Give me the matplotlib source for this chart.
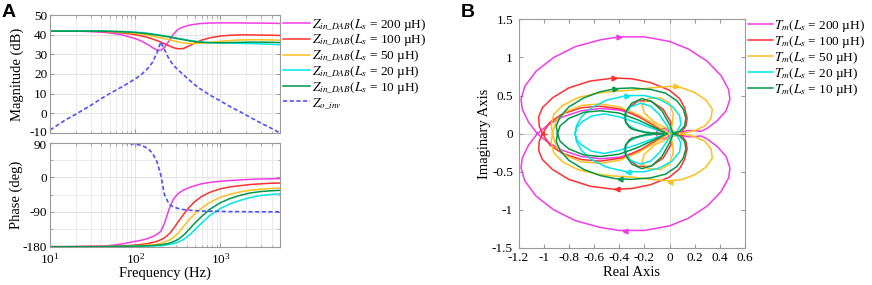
import numpy as np
import matplotlib
matplotlib.use('Agg')
import matplotlib.pyplot as plt
import matplotlib.transforms as mtransforms
from matplotlib.ticker import LogLocator, LogFormatterMathtext, NullFormatter, FixedLocator

plt.rcParams['font.family'] = ['Liberation Serif', 'DejaVu Serif']
plt.rcParams['mathtext.fontset'] = 'stix'

# ---------------- Bode data ----------------
freq = [10, 15, 20, 30, 40, 50, 70, 100, 120, 140, 160, 180, 200, 220, 250, 280,
        320, 370, 430, 500, 600, 750, 1000, 1300, 1700, 2200, 3000, 4000, 5000]

mag_200 = [41.8, 41.8, 41.8, 41.6, 41.3, 40.9, 39.9, 38.0, 36.6, 35.0, 33.4, 32.1, 32.0, 33.5, 36.8, 40.3,
           42.8, 44.0, 44.8, 45.3, 45.7, 45.9, 46.0, 46.0, 46.0, 45.9, 45.9, 45.8, 45.7]
mag_100 = [41.8, 41.8, 41.8, 41.7, 41.6, 41.4, 40.9, 40.0, 39.3, 38.6, 37.8, 37.0, 36.2, 35.4, 34.3, 33.4,
           32.8, 33.0, 34.3, 35.8, 37.2, 38.4, 39.3, 39.7, 39.9, 39.9, 39.8, 39.7, 39.6]
mag_50 = [41.8, 41.8, 41.8, 41.8, 41.7, 41.6, 41.3, 40.7, 40.3, 39.8, 39.3, 38.8, 38.4, 38.0, 37.4, 36.9,
          36.3, 35.8, 35.5, 35.5, 35.7, 36.1, 36.6, 37.0, 37.3, 37.4, 37.4, 37.3, 37.2]
mag_20 = [41.8, 41.8, 41.8, 41.8, 41.8, 41.7, 41.6, 41.3, 41.0, 40.7, 40.4, 40.0, 39.7, 39.4, 39.0, 38.6,
          38.1, 37.6, 37.1, 36.7, 36.3, 36.0, 35.8, 35.7, 35.6, 35.5, 35.3, 35.1, 34.9]
mag_10 = [41.8, 41.8, 41.8, 41.8, 41.8, 41.7, 41.5, 41.1, 40.8, 40.5, 40.1, 39.8, 39.5, 39.2, 38.8, 38.4,
          37.9, 37.4, 36.9, 36.5, 36.1, 35.9, 35.9, 36.0, 36.1, 36.2, 36.2, 36.1, 36.0]
mag_zo = [-8.5, -3.5, -0.5, 4.0, 7.5, 10.0, 13.5, 17.5, 20.0, 22.8, 26.0, 30.8, 36.3, 32.5, 27.5, 24.5,
          22.0, 19.5, 17.0, 14.5, 12.0, 9.3, 6.3, 3.4, 0.8, -1.9, -5.0, -7.7, -10.0]

ph_200 = [-180, -180, -179.5, -179, -178.5, -177, -173, -166, -163, -159, -154, -148, -140, -120, -82, -57,
          -42, -33, -27, -22, -17, -13.5, -10.5, -8.5, -7, -5.5, -4.5, -4, -3.5]
ph_100 = [-180, -180, -180, -179.5, -179, -179, -178, -176, -174, -172, -169, -166, -162, -157, -147, -134,
          -115, -96, -78, -63, -50, -39, -30, -25, -22, -19, -17, -15.5, -15]
ph_50 = [-180, -180, -180, -180, -179.5, -179.5, -179, -178, -177, -176, -175, -173, -171, -168, -163, -156,
         -145, -127, -110, -95, -80, -65, -52, -44, -38, -34, -31, -29, -28]
ph_20 = [-180, -180, -180, -180, -180, -179.5, -179.5, -179, -178.8, -178.5, -178, -177.5, -177, -176, -174.5, -172,
         -168, -161, -150, -136, -119, -99, -81, -69, -60, -53, -47, -44.5, -43]
ph_10 = [-180, -180, -180, -180, -180, -179.5, -179, -178.5, -178, -177.5, -177, -176, -175, -173.5, -171, -167,
         -161, -150, -135, -119, -102, -83, -66, -55, -47, -41, -37, -35, -34]
ph_zo = [90, 90, 90, 89.8, 89.6, 89.3, 88.5, 86, 82, 75, 62, 40, 5, -45, -70, -77,
         -81, -84, -85.5, -86.5, -87.5, -88, -88.5, -89, -89, -89.5, -89.5, -89.5, -89.5]

# ---------------- Nyquist data (upper half, mirrored for lower half) ----------------
nan = float('nan')
nyq_200 = [(-1.05, 0.0), (-1.12, 0.15), (-1.17, 0.32), (-1.18, 0.45), (-1.15, 0.62), (-1.06, 0.82),
           (-0.92, 1.0), (-0.75, 1.14), (-0.55, 1.23), (-0.40, 1.27), (-0.2, 1.27), (0.0, 1.21),
           (0.15, 1.11), (0.30, 0.95), (0.41, 0.76), (0.47, 0.58), (0.48, 0.45), (0.45, 0.30),
           (0.38, 0.17), (0.30, 0.07), (0.25, 0.03), (0.2, 0.04), (0.14, 0.04), (0.1, 0.02),
           (0.06, 0.01), (0.02, 0.0), (nan, nan),
           (0.0, 0.0), (-0.01, 0.045), (-0.03, 0.062), (-0.055, 0.067), (-0.08, 0.06), (-0.095, 0.045),
           (-0.105, 0.0), (nan, nan),
           (-0.02, 0.0), (-0.08, 0.07), (-0.15, 0.15), (-0.25, 0.24), (-0.4, 0.31), (-0.55, 0.33),
           (-0.7, 0.3), (-0.85, 0.22), (-0.97, 0.11), (-1.05, 0.0)]
nyq_100 = [(-1.01, 0.0), (-1.035, 0.1), (-1.04, 0.22), (-1.01, 0.34), (-0.93, 0.47), (-0.8, 0.6),
           (-0.63, 0.69), (-0.44, 0.73), (-0.3, 0.72), (-0.15, 0.67), (0.0, 0.57), (0.08, 0.46),
           (0.12, 0.34), (0.14, 0.2), (0.13, 0.1), (0.1, 0.03), (0.05, 0.0), (0.02, 0.0),
           (0.01, 0.15), (-0.05, 0.32), (-0.15, 0.43), (-0.25, 0.43), (-0.33, 0.33), (-0.36, 0.2),
           (-0.32, 0.08), (-0.2, 0.02), (-0.05, 0.0), (nan, nan),
           (-0.02, 0.0), (-0.1, 0.08), (-0.22, 0.2), (-0.38, 0.32), (-0.55, 0.36), (-0.7, 0.34),
           (-0.85, 0.26), (-0.95, 0.15), (-1.01, 0.0)]
nyq_50 = [(-0.93, 0.0), (-0.94, 0.12), (-0.92, 0.25), (-0.85, 0.37), (-0.73, 0.47), (-0.58, 0.53),
          (-0.45, 0.555), (-0.3, 0.57), (-0.15, 0.6), (0.0, 0.62), (0.1, 0.6), (0.2, 0.54),
          (0.29, 0.44), (0.34, 0.32), (0.33, 0.2), (0.28, 0.1), (0.2, 0.04), (0.1, 0.0),
          (0.0, 0.05), (-0.12, 0.15), (-0.2, 0.27), (-0.22, 0.38), (-0.17, 0.46), (-0.07, 0.47),
          (0.0, 0.4), (0.03, 0.25), (0.02, 0.1), (0.0, 0.0), (nan, nan),
          (0.0, 0.0), (-0.1, 0.1), (-0.25, 0.25), (-0.4, 0.35), (-0.55, 0.39), (-0.7, 0.37),
          (-0.82, 0.29), (-0.9, 0.17), (-0.93, 0.0)]
nyq_20 = [(-0.75, 0.0), (-0.74, 0.1), (-0.7, 0.22), (-0.62, 0.34), (-0.5, 0.44), (-0.34, 0.5),
          (-0.2, 0.5), (-0.08, 0.45), (0.02, 0.36), (0.08, 0.24), (0.09, 0.12), (0.06, 0.03),
          (0.02, 0.0), (-0.02, 0.1), (-0.08, 0.25), (-0.15, 0.36), (-0.23, 0.4), (-0.31, 0.35),
          (-0.36, 0.24), (-0.34, 0.12), (-0.25, 0.04), (-0.1, 0.0), (nan, nan),
          (-0.02, 0.0), (-0.12, 0.06), (-0.25, 0.14), (-0.4, 0.22), (-0.52, 0.26), (-0.62, 0.23),
          (-0.7, 0.15), (-0.74, 0.07), (-0.75, 0.0)]
nyq_10 = [(-0.89, 0.0), (-0.9, 0.1), (-0.87, 0.22), (-0.8, 0.35), (-0.68, 0.47), (-0.55, 0.55),
          (-0.43, 0.59), (-0.3, 0.6), (-0.15, 0.58), (-0.03, 0.53), (0.06, 0.43), (0.11, 0.32),
          (0.13, 0.2), (0.12, 0.1), (0.08, 0.03), (0.03, 0.0), (0.0, 0.12), (-0.06, 0.3),
          (-0.14, 0.42), (-0.22, 0.46), (-0.3, 0.4), (-0.35, 0.28), (-0.35, 0.15), (-0.3, 0.06),
          (-0.18, 0.01), (-0.05, 0.0), (nan, nan),
          (-0.02, 0.0), (-0.12, 0.08), (-0.25, 0.18), (-0.4, 0.27), (-0.55, 0.3), (-0.68, 0.28),
          (-0.8, 0.2), (-0.87, 0.1), (-0.89, 0.0)]

arrows_200 = [(-0.40, 1.27), (-0.35, -1.28)]
arrows_100 = [(-0.44, 0.73), (-0.42, -0.73)]
arrows_50 = [(0.05, 0.62), (0.00, -0.64)]
arrows_20 = [(-0.34, 0.50), (-0.33, -0.50)]
arrows_10 = [(-0.43, 0.59), (-0.39, -0.59)]

c200, c100, c50, c20, c10, czo = '#f23ce6', '#ff3030', '#ffbf1f', '#00e5e8', '#00994a', '#5050ff'

labels_Ls = ['200', '100', '50', '20', '10']
series = [(mag_200, ph_200, nyq_200, arrows_200, c200),
          (mag_100, ph_100, nyq_100, arrows_100, c100),
          (mag_50, ph_50, nyq_50, arrows_50, c50),
          (mag_20, ph_20, nyq_20, arrows_20, c20),
          (mag_10, ph_10, nyq_10, arrows_10, c10)]

W, H = 872, 285
fig = plt.figure(figsize=(W / 100, H / 100), dpi=100)

def frac(l, t, r, b):
    return [l / W, 1 - b / H, (r - l) / W, (b - t) / H]

ax_m = fig.add_axes(frac(50, 15, 280, 133))
ax_p = fig.add_axes(frac(50, 142.5, 280, 246.7))
ax_n = fig.add_axes(frac(518.5, 19.3, 745, 248))

spine_c = '#9a9a9a'
grid_c = '#e3e3e3'
tick_fs = 9.5

def style(ax):
    for s in ax.spines.values():
        s.set_color(spine_c)
        s.set_linewidth(0.8)
    ax.tick_params(which='both', direction='in', top=True, right=True, color=spine_c,
                   labelsize=tick_fs, labelcolor='black', pad=2)
    ax.tick_params(which='major', length=3)
    ax.tick_params(which='minor', length=1.8)

for ax in (ax_m, ax_p):
    ax.set_xscale('log')
    ax.set_xlim(10, 5000)
    ax.xaxis.set_major_locator(LogLocator(base=10, numticks=10))
    ax.xaxis.set_minor_locator(LogLocator(base=10, subs=np.arange(2, 10), numticks=20))
    ax.xaxis.set_minor_formatter(NullFormatter())
    ax.grid(True, which='major', color=grid_c, lw=0.7)
    ax.grid(True, which='minor', axis='x', color=grid_c, lw=0.5)
    ax.set_axisbelow(True)
    style(ax)

for (mag, ph, nyq, arr, col), ls in zip(series, labels_Ls):
    ax_m.plot(freq, mag, color=col, lw=1.1,
              label=r'$Z_{in\_DAB}(L_s$' + ' = ' + ls + ' \u00b5H)')
    ax_p.plot(freq, ph, color=col, lw=1.1)
ax_m.plot(freq, mag_zo, color=czo, lw=1.2, ls=(0, (2.5, 1.5)), label=r'$Z_{o\_inv}$')
ax_p.plot(freq, ph_zo, color=czo, lw=1.2, ls=(0, (2.5, 1.5)))

ax_m.set_ylim(-10, 50)
ax_m.set_yticks([-10, 0, 10, 20, 30, 40, 50])
ax_m.set_yticklabels(['-10', '0', '10', '20', '30', '40', '50'])
ax_m.tick_params(axis='x', which='both', labelbottom=False)
ax_m.set_ylabel('Magnitude (dB)', fontsize=10.5, labelpad=4)

ax_p.set_ylim(-180, 90)
ax_p.set_yticks([-180, -90, 0, 90])
ax_p.set_yticklabels(['-180', '-90', '0', '90'])
ax_p.yaxis.set_minor_locator(FixedLocator([-135, -45, 45]))
ax_p.grid(True, which='minor', axis='y', color=grid_c, lw=0.5)
ax_p.xaxis.set_major_formatter(LogFormatterMathtext())
ax_p.tick_params(axis='x', pad=4)
ax_p.set_xlabel('Frequency (Hz)', fontsize=10.5, labelpad=0)
ax_p.set_ylabel('Phase (deg)', fontsize=10.5, labelpad=0)

# nudge the two touching tick labels apart slightly
fig.canvas.draw()
up = mtransforms.ScaledTranslation(0, 2 / 100, fig.dpi_scale_trans)
down = mtransforms.ScaledTranslation(0, -2 / 100, fig.dpi_scale_trans)
for lab in ax_m.get_yticklabels():
    if lab.get_text() == '-10':
        lab.set_transform(lab.get_transform() + up)
for lab in ax_p.get_yticklabels():
    if lab.get_text() == '90':
        lab.set_transform(lab.get_transform() + down)

ax_m.legend(loc='upper left', bbox_to_anchor=(1.013, 0.985), frameon=False, fontsize=9.5,
            handlelength=2.05, handletextpad=0.15, labelspacing=0.0, borderaxespad=0, borderpad=0)

# Nyquist
ax_n.axhline(0, color='#dddddd', lw=0.7, zorder=0)
ax_n.axvline(0, color='#dddddd', lw=0.7, zorder=0)
for (mag, ph, nyq, arr, col), ls in zip(series, labels_Ls):
    a = np.array(nyq, dtype=float)
    ax_n.plot(a[:, 0], a[:, 1], color=col, lw=1.1,
              label=r'$T_m(L_s$' + ' = ' + ls + ' \u00b5H)')
    ax_n.plot(a[:, 0], -a[:, 1], color=col, lw=1.1)
    ax_n.plot([arr[0][0]], [arr[0][1]], marker='>', color=col, ms=3.5, ls='none')
    ax_n.plot([arr[1][0]], [arr[1][1]], marker='<', color=col, ms=3.5, ls='none')
ax_n.plot([-1], [0], marker='+', color='#ff3030', ms=5, mew=0.8, ls='none')

ax_n.set_xlim(-1.2, 0.6)
ax_n.set_ylim(-1.5, 1.5)
xt = [-1.2, -1.0, -0.8, -0.6, -0.4, -0.2, 0.0, 0.2, 0.4, 0.6]
ax_n.set_xticks(xt)
ax_n.set_xticklabels(['-1.2', '-1', '-0.8', '-0.6', '-0.4', '-0.2', '0', '0.2', '0.4', '0.6'])
yt = [-1.5, -1.0, -0.5, 0.0, 0.5, 1.0, 1.5]
ax_n.set_yticks(yt)
ax_n.set_yticklabels(['-1.5', '-1', '-0.5', '0', '0.5', '1', '1.5'])
style(ax_n)
ax_n.tick_params(axis='y', pad=4)
ax_n.tick_params(axis='x', pad=3)
ax_n.set_xlabel('Real Axis', fontsize=10.5, labelpad=1)
ax_n.set_ylabel('Imaginary Axis', fontsize=10.5, labelpad=1)
ax_n.legend(loc='upper left', bbox_to_anchor=(1.013, 1.006), frameon=False, fontsize=9.5,
            handlelength=1.9, handletextpad=0.1, labelspacing=0.0, borderaxespad=0, borderpad=0)

fig.text(2 / W, 1 - 4 / H, 'A', ha='left', va='top', fontsize=14, fontweight='bold',
         family='Liberation Sans')
fig.text(461 / W, 1 - 4 / H, 'B', ha='left', va='top', fontsize=14, fontweight='bold',
         family='Liberation Sans')

fig.savefig('out.png', dpi=100)
